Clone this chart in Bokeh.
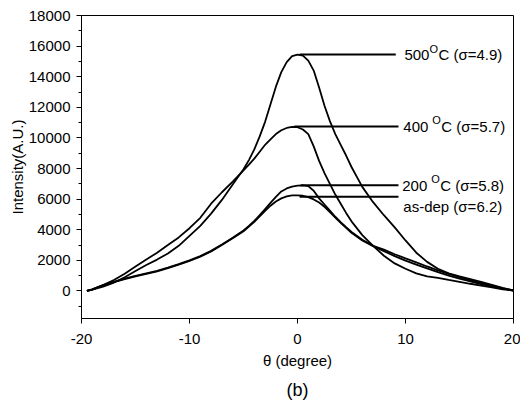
from bokeh.plotting import figure
from bokeh.models import Range1d, FixedTicker, Title
from bokeh.core.properties import value
from bokeh.embed import file_html
from bokeh.resources import INLINE

theta = [-19.5, -19, -18, -17, -16, -15, -14, -13, -12, -11, -10, -9, -8, -7, -6, -5,
         -4.5, -4, -3.5, -3, -2.5, -2, -1.5, -1, -0.5, 0, 0.5, 1, 1.5, 2, 2.5, 3, 3.5,
         4, 4.5, 5, 6, 7, 8, 9, 10, 11, 12, 13, 14, 15, 16, 17, 18, 19, 20]

i500 = [0, 80, 280, 550, 900, 1300, 1700, 2050, 2450, 2950, 3600, 4250, 5050, 5950, 6950, 7950,
        8550, 9250, 10100, 11050, 12200, 13350, 14300, 14950, 15350, 15450, 15380, 15050, 14400,
        13300, 12100, 11100, 10250, 9550, 8850, 8100, 6800, 5800, 4950, 4150, 3300, 2500, 1900,
        1450, 1150, 950, 780, 600, 400, 200, 30]

i400 = [0, 100, 380, 720, 1130, 1600, 2050, 2500, 3000, 3500, 4100, 4780, 5700, 6450, 7150, 7880,
        8250, 8650, 9100, 9550, 9900, 10250, 10500, 10650, 10720, 10700, 10550, 10250, 9450,
        8500, 7700, 7000, 6300, 5700, 5100, 4550, 3650, 2950, 2300, 1800, 1450, 1150, 950,
        850, 720, 600, 470, 350, 230, 110, 20]

i200 = [0, 100, 380, 600, 800, 980, 1150, 1320, 1530, 1750, 2000, 2280, 2620, 3040, 3480, 3950,
        4250, 4580, 4950, 5350, 5750, 6150, 6500, 6700, 6820, 6880, 6900, 6850, 6550,
        6050, 5650, 5250, 4850, 4500, 4170, 3850, 3350, 2950, 2700, 2400, 2130, 1870, 1600,
        1350, 1120, 900, 700, 520, 350, 170, 30]

iasdep = [0, 90, 360, 570, 770, 950, 1110, 1280, 1490, 1720, 1960, 2240, 2580, 3000, 3440, 3900,
          4200, 4520, 4870, 5230, 5570, 5850, 6050, 6180, 6240, 6250, 6220, 6130, 5980,
          5780, 5500, 5150, 4800, 4450, 4120, 3800, 3300, 2930, 2600, 2280, 1980, 1720, 1470,
          1230, 1000, 800, 620, 450, 300, 150, 30]

x_ticks = [-20, -10, 0, 10, 20]
x_tick_labels = ["-20", "-10", "0", "10", "20"]
y_ticks = [0, 2000, 4000, 6000, 8000, 10000, 12000, 14000, 16000, 18000]

FONT = "Liberation Sans"

p = figure(width=520, height=407, output_backend="svg", toolbar_location=None,
           x_range=Range1d(-20, 20), y_range=Range1d(-1800, 18000),
           min_border_left=81, min_border_right=7, min_border_top=15, min_border_bottom=89)

p.xgrid.visible = False
p.ygrid.visible = False
p.outline_line_color = "black"
p.outline_line_width = 1
p.background_fill_color = "white"
p.border_fill_color = "white"

for ax in (p.xaxis[0], p.yaxis[0]):
    ax.axis_line_color = "black"
    ax.major_tick_line_color = "black"
    ax.major_tick_out = 5
    ax.major_tick_in = 0
    ax.major_label_text_font = FONT
    ax.major_label_text_font_size = "15px"
    ax.major_label_text_color = "black"
    ax.axis_label_text_font = FONT
    ax.axis_label_text_font_size = "15px"
    ax.axis_label_text_font_style = "normal"
    ax.axis_label_text_color = "black"

p.xaxis.ticker = FixedTicker(ticks=x_ticks)
p.xaxis.major_label_overrides = {t: s for t, s in zip(x_ticks, x_tick_labels)}
p.yaxis.ticker = FixedTicker(ticks=y_ticks, minor_ticks=list(range(-1000, 18000, 2000)))
p.xaxis.minor_tick_line_color = None
p.yaxis.minor_tick_line_color = "black"
p.yaxis.minor_tick_out = 3
p.yaxis.minor_tick_in = 0
p.xaxis.axis_label = "θ (degree)"
p.yaxis.axis_label = "Intensity(A.U.)"
p.xaxis.major_label_standoff = 10
p.xaxis.axis_label_standoff = 5
p.yaxis.major_label_standoff = 6
p.yaxis.axis_label_standoff = 0

for series in (iasdep, i200, i400, i500):
    p.line(theta, series, line_color="black", line_width=1.8)

# leader lines to labels
leaders = [(0.2, 9.1, 15450), (-0.3, 9.35, 10750), (0.3, 9.35, 6900), (0.2, 9.35, 6150)]
for x0, x1, yy in leaders:
    p.line([x0, x1], [yy, yy], line_color="black", line_width=2)

labels_main = ["500", "400 ", "200 "]
labels_tail = ["C (σ=4.9)", "C (σ=5.7)", "C (σ=5.8)"]
lab_x = [9.9, 9.8, 9.7]
lab_y = [15450, 10750, 6900]
o_off = [25, 29, 29]
c_off = [34, 38, 38]
for t, tail, lx, ly, oo, co in zip(labels_main, labels_tail, lab_x, lab_y, o_off, c_off):
    p.text(x=[lx], y=[ly], text=[t], text_font=value(FONT), text_font_size="15px",
           text_baseline="middle", text_align="left", text_color="black")
    p.text(x=[lx], y=[ly], text=["O"], text_font=value(FONT), text_font_size="11px",
           text_baseline="middle", text_align="left", text_color="black",
           x_offset=oo, y_offset=-6)
    p.text(x=[lx], y=[ly], text=[tail], text_font=value(FONT), text_font_size="15px",
           text_baseline="middle", text_align="left", text_color="black", x_offset=co)

p.text(x=[9.8], y=[5550], text=["as-dep (σ=6.2)"], text_font=value(FONT), text_font_size="15px",
       text_baseline="middle", text_align="left", text_color="black")

p.add_layout(Title(text="(b)", align="center", text_font=FONT, text_font_size="18px",
                   text_font_style="normal", text_color="black", standoff=13), "below")

open("out.html", "w").write(file_html(p, INLINE))
